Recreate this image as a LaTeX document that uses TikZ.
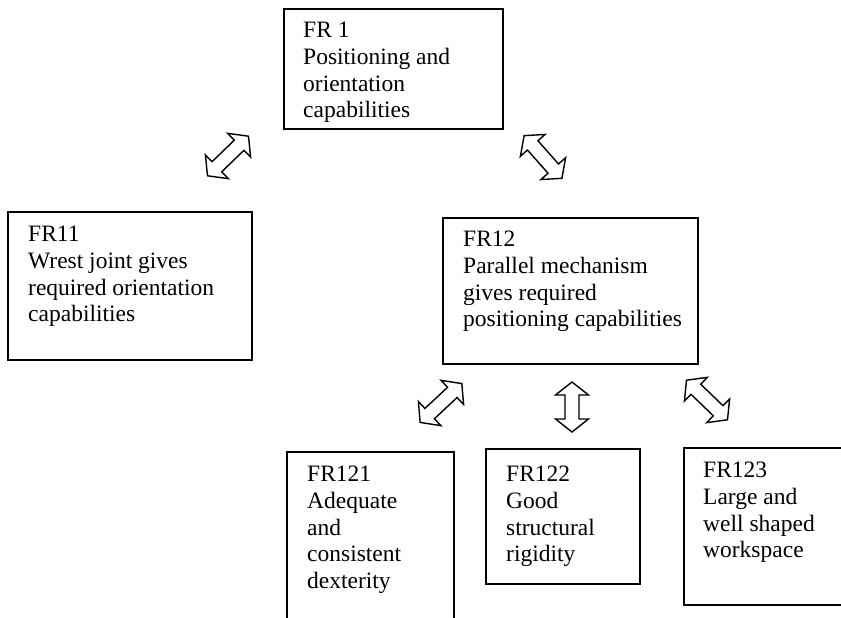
\documentclass[tikz,border=0pt]{standalone}
\usepackage{fontspec}
\setmainfont{Liberation Serif}
\begin{document}
\begin{tikzpicture}[x=1pt,y=-1pt,
  box/.style={draw=black, line width=1.8pt, fill=none, rectangle, inner sep=0pt, anchor=north west},
  txt/.style={align=left, inner sep=0pt, anchor=north west, font=\fontsize{23.5}{26.7}\selectfont},
  dbl/.style={draw=black, fill=white, line width=1.4pt, line join=miter}]
\useasboundingbox (0,0) rectangle (841,618);
\clip (0,0) rectangle (841,618);
\fill[white] (0,0) rectangle (841,618);
\newcommand\dblarrow[3]{%
  \begin{scope}[shift={#1}, rotate=#2]
  \pgfmathsetmacro\hl{#3/2}
  \pgfmathsetmacro\hb{#3/2-13}
  \draw[dbl] (-\hl,0) -- (-\hb,16.5) -- (-\hb,7) -- (\hb,7) -- (\hb,16.5) -- (\hl,0)
    -- (\hb,-16.5) -- (\hb,-7) -- (-\hb,-7) -- (-\hb,-16.5) -- cycle;
  \end{scope}}
% boxes
\node[box, minimum width=219pt, minimum height=120pt] (fr1) at (283,8) {};
\node[box, minimum width=244pt, minimum height=148pt] (fr11) at (7,211) {};
\node[box, minimum width=255pt, minimum height=146pt] (fr12) at (442,217) {};
\node[box, minimum width=167pt, minimum height=200pt] (fr121) at (286,451) {};
\node[box, minimum width=154pt, minimum height=135pt] (fr122) at (485,448) {};
\node[box, minimum width=180pt, minimum height=157pt] (fr123) at (683,447) {};
% texts (top of first line = baseline - cap height)
\node[txt] (fr1t) at (303,22) {FR 1\\Positioning and\\orientation\\capabilities};
\node[txt] (fr11t) at (28,226) {FR11\\Wrest joint gives\\required orientation\\capabilities};
\node[txt] (fr12t) at (463,231) {FR12\\Parallel mechanism\\gives required\\positioning capabilities};
\node[txt] (fr121t) at (307,466) {FR121\\Adequate\\and\\consistent\\dexterity};
\node[txt] (fr122t) at (506,466) {FR122\\Good\\structural\\rigidity};
\node[txt] (fr123t) at (703,462) {FR123\\Large and\\well shaped\\workspace};
% block arrows
\coordinate (a1) at (228,156);
\coordinate (a2) at (543,157);
\coordinate (a3) at (441,403);
\coordinate (a4) at (572,407);
\coordinate (a5) at (707,400);
\dblarrow{(a1)}{44}{57}
\dblarrow{(a2)}{-48.5}{57}
\dblarrow{(a3)}{43}{57}
\dblarrow{(a4)}{90}{50}
\dblarrow{(a5)}{-44}{57}
\end{tikzpicture}
\end{document}
